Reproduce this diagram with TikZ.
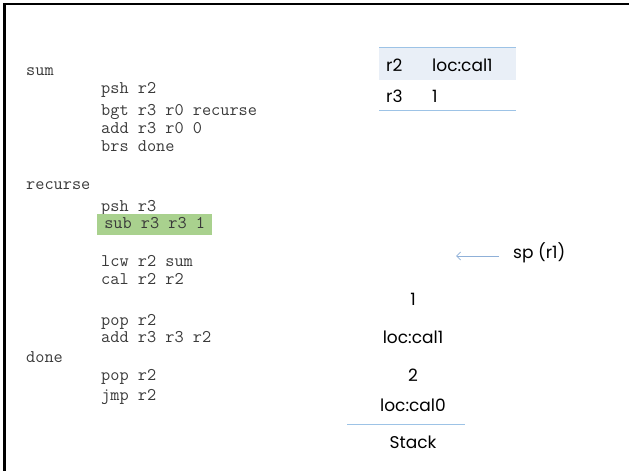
\documentclass[tikz,border=0pt]{standalone}
\usepackage{fontspec}
\usetikzlibrary{arrows.meta}
\newfontfamily\slidefont{Poppins}
\begin{document}
\begin{tikzpicture}[x=1pt,y=1pt,
  code/.style={anchor=west,inner xsep=4pt,inner ysep=4pt,text height=10pt,text depth=3pt,
    font=\ttfamily\fontsize{17.8}{20}\selectfont,text=codegrey},
  slide/.style={font=\slidefont\fontsize{17}{20}\selectfont,text=black,inner sep=2pt},
  cell/.style={slide,anchor=west},
  blueline/.style={draw=rulebl,line width=1pt}]
\definecolor{codegrey}{HTML}{3A3A3A}\definecolor{hlgreen}{HTML}{A9D18E}
\definecolor{rulebl}{HTML}{9DC3E6}\definecolor{rowfill}{HTML}{E9EFF7}
\definecolor{arrowbl}{HTML}{8FB0D8}
\useasboundingbox (0,0) rectangle (629,471);
% slide frame (only top and left edges are visible)
\draw[line width=2.5pt] (4.5,0) -- (4.5,467) -- (629,467);
% program listing
\node[code] (lsum) at (22,399) {sum};
\node[code] (c1) at (97,381) {psh r2};
\node[code] (c2) at (97,359) {bgt r3 r0 recurse};
\node[code] (c3) at (97,341) {add r3 r0 0};
\node[code] (c4) at (97,323) {brs done};
\node[code] (lrec) at (22,285) {recurse};
\node[code] (c5) at (97,263) {psh r3};
\node[code,fill=hlgreen,minimum width=115pt] (c6) at (97,246) {sub r3 r3 1};
\node[code] (c7) at (97,208) {lcw r2 sum};
\node[code] (c8) at (97,190) {cal r2 r2};
\node[code] (c9) at (97,149) {pop r2};
\node[code] (c10) at (97,132) {add r3 r3 r2};
\node[code] (ldone) at (22,112) {done};
\node[code] (c11) at (97,94) {pop r2};
\node[code] (c12) at (97,74) {jmp r2};
% register table
\fill[rowfill] (379,391) rectangle (516,423);
\draw[blueline] (379,423) -- (516,423);
\draw[blueline] (379,360) -- (516,360);
\node[cell] (r2lbl) at (384,406) {r2};
\node[cell] (r2val) at (430,406) {loc:cal1};
\node[cell] (r3lbl) at (384,375) {r3};
\node[cell] (r3val) at (430,375) {1};
% stack pointer
\node[cell] (sp) at (511,218) {sp (r1)};
\coordinate (sptip) at (456,215);
\draw[arrowbl,line width=0.8pt,-{Straight Barb[length=4pt,width=8pt]},shorten <=12pt] (sp.west |- sptip) -- (sptip);
% stack contents
\node[slide] (s1) at (413,172) {1};
\node[slide] (s2) at (413,134) {loc:cal1};
\node[slide] (s3) at (413,96) {2};
\node[slide] (s4) at (413,66) {loc:cal0};
\draw[blueline] (347,46) -- (465,46);
\node[slide] (stk) at (413,29) {Stack};
\end{tikzpicture}
\end{document}
